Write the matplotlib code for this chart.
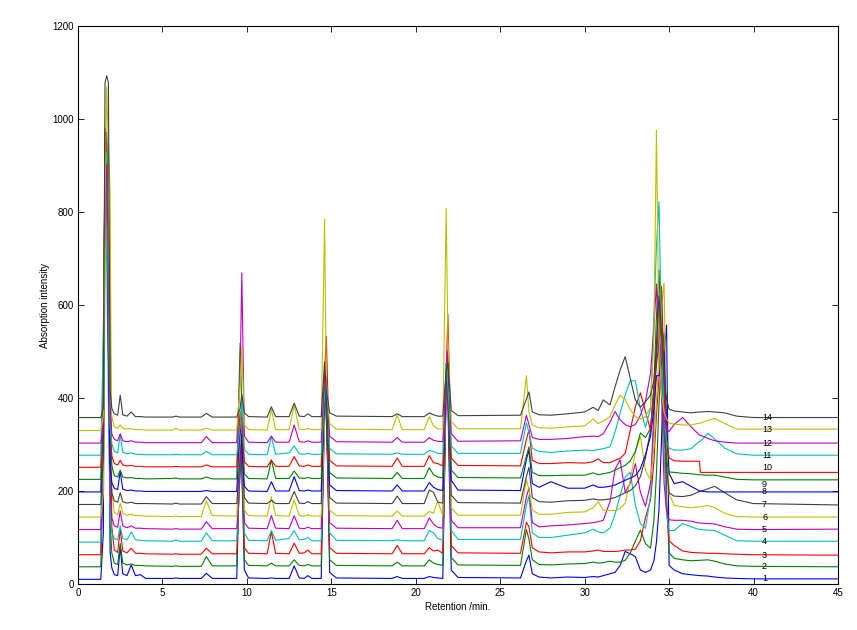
import matplotlib
matplotlib.use("Agg")
import matplotlib.pyplot as plt

# ---------------- data ----------------
t_early = [0.0, 1.35, 1.5, 1.6, 1.7, 1.8, 1.9, 2.0, 2.15, 2.35, 2.5, 2.65, 2.9, 3.15, 3.4, 3.7,
           4.0, 5.6, 5.8, 6.0, 7.3, 7.6, 7.95, 9.4, 9.6, 9.7, 9.85, 10.1, 11.2, 11.45, 11.7,
           12.5, 12.8, 13.1, 13.4, 13.6, 13.85, 14.4, 14.6, 14.7, 14.9, 15.3, 18.6, 18.9, 19.2,
           20.5, 20.8, 21.05, 21.3, 21.6, 21.8, 21.9, 22.1, 22.5, 26.2, 26.55, 26.7, 26.9, 27.3,
           28.0, 29.0]
t_late = [30.0, 30.5, 30.8, 31.1, 31.5, 31.8, 32.1, 32.4, 32.7, 33.0, 33.3, 33.6, 33.9, 34.1,
          34.25, 34.4, 34.55, 34.7, 34.85, 35.0, 35.3, 35.8, 36.3, 36.8, 36.85, 37.3, 37.7,
          38.3, 39.0, 40.0, 45.0]

# baseline level of each trace (absorption units)
baselines = [10, 37, 63, 90, 117, 144, 171, 198, 225, 251, 277, 303, 330, 358]
trace_names = [str(i) for i in range(1, 15)]

# intensity above baseline, sampled at t_early + t_late
trace_01 = [0, 0, 100, 900, 950, 600, 60, 25, 10, 8, 70, 12, 8, 31, 8, 10, 2, 2, 3, 2, 2, 13, 2, 2,
            300, 250, 20, 3, 2, 3, 2, 2, 29, 3, 2, 8, 2, 2, 350, 420, 15, 3, 2, 6, 2, 2, 6, 4, 3, 2,
            420, 380, 20, 4, 3, 40, 52, 12, 5, 3, 5,
            4, 6, 5, 8, 12, 15, 30, 60, 55, 49, 20, 15, 20, 40, 80, 150, 300, 480, 547, 30, 20,
            12, 10, 8, 8, 7, 5, 3, 2, 1, 1]
trace_02 = [0, 0, 200, 800, 850, 500, 100, 30, 8, 5, 50, 8, 4, 6, 3, 3, 2, 1, 2, 1, 1, 22, 2, 2,
            250, 200, 15, 3, 2, 8, 2, 2, 15, 3, 2, 5, 2, 2, 380, 350, 15, 3, 2, 10, 2, 2, 15, 8, 5, 3,
            400, 380, 20, 4, 3, 80, 60, 15, 5, 4, 6,
            7, 10, 8, 9, 12, 10, 10, 14, 30, 55, 79, 50, 40, 100, 200, 350, 450, 503, 150, 30, 18,
            15, 13, 14, 14, 15, 12, 6, 2, 1, 0]
trace_03 = [0, 0, 400, 880, 800, 650, 560, 60, 10, 5, 55, 8, 4, 14, 3, 3, 2, 1, 2, 1, 1, 14, 2, 2,
            200, 250, 15, 3, 2, 50, 3, 2, 25, 3, 4, 10, 2, 2, 350, 300, 15, 3, 2, 20, 2, 2, 15, 8, 10, 3,
            350, 400, 20, 4, 3, 70, 60, 15, 6, 4, 6,
            6, 8, 10, 7, 7, 7, 8, 10, 10, 12, 30, 80, 118, 200, 300, 380, 457, 300, 100, 30, 20,
            8, 5, 4, 4, 3, 3, 2, 1, 0, -1]
trace_04 = [0, 0, 450, 700, 600, 300, 50, 20, 8, 5, 35, 8, 5, 22, 5, 4, 3, 2, 5, 2, 2, 20, 3, 3,
            150, 250, 20, 4, 3, 25, 4, 8, 25, 5, 6, 10, 3, 3, 300, 330, 20, 4, 3, 5, 3, 3, 25, 20, 8, 4,
            350, 380, 25, 6, 6, 80, 100, 20, 10, 10, 15,
            20, 28, 22, 20, 30, 60, 100, 140, 150, 80, 40, 30, 100, 250, 400, 450, 510, 200, 60, 25, 25,
            40, 33, 27, 27, 26, 25, 15, 3, 2, 2]
trace_05 = [0, 0, 100, 700, 750, 400, 80, 25, 8, 5, 40, 8, 4, 8, 3, 3, 2, 1, 2, 1, 1, 17, 2, 2,
            120, 200, 15, 3, 2, 30, 3, 2, 30, 3, 2, 5, 2, 2, 300, 250, 15, 3, 2, 20, 2, 2, 25, 12, 5, 3,
            330, 300, 20, 4, 4, 70, 90, 15, 6, 8, 10,
            13, 15, 17, 20, 60, 130, 150, 80, 100, 142, 80, 50, 100, 250, 400, 493, 300, 100, 40, 21, 20,
            20, 18, 14, 14, 13, 12, 6, 1, 0, 1]
trace_06 = [0, 0, 50, 500, 700, 804, 700, 60, 10, 5, 30, 8, 4, 6, 3, 3, 2, 1, 2, 1, 1, 35, 3, 2,
            150, 200, 15, 3, 2, 44, 3, 2, 37, 3, 2, 5, 2, 2, 200, 290, 15, 3, 2, 13, 2, 2, 12, 8, 34, 3,
            300, 330, 20, 4, 4, 80, 60, 15, 6, 6, 10,
            11, 20, 33, 15, 14, 14, 18, 30, 80, 140, 173, 100, 80, 150, 250, 350, 450, 503, 200, 50, 25,
            22, 20, 22, 22, 25, 20, 8, 1, 0, 0]
trace_07 = [0, 0, 100, 800, 800, 500, 100, 25, 8, 5, 25, 6, 3, 5, 2, 2, 2, 1, 3, 1, 1, 17, 2, 2,
            100, 150, 15, 3, 2, 9, 2, 2, 28, 3, 2, 6, 2, 2, 250, 200, 15, 3, 2, 18, 2, 2, 31, 26, 5, 3,
            280, 250, 20, 4, 3, 60, 80, 15, 6, 5, 8,
            9, 12, 10, 10, 12, 15, 20, 25, 30, 40, 60, 100, 160, 250, 300, 350, 389, 250, 80, 25, 18,
            17, 20, 28, 28, 34, 39, 25, 10, 2, -1]
trace_08 = [0, 0, 200, 750, 700, 300, 60, 20, 8, 5, 45, 6, 3, 4, 2, 2, 1, 1, 1, 1, 1, 3, 1, 1,
            150, 100, 12, 2, 1, 22, 2, 2, 33, 3, 2, 4, 2, 2, 200, 220, 15, 3, 2, 15, 2, 2, 20, 10, 5, 3,
            250, 300, 25, 4, 3, 70, 90, 18, 10, 22, 8,
            8, 15, 10, 10, 12, 15, 20, 25, 30, 35, 50, 80, 120, 180, 250, 250, 280, 302, 150, 40, 18,
            22, 12, 2, 2, 0, 0, 0, 0, 0, 0]
trace_09 = [0, 0, 150, 700, 700, 400, 150, 30, 8, 5, 20, 5, 3, 4, 2, 2, 1, 2, 3, 1, 1, 5, 1, 1,
            293, 150, 12, 2, 1, 42, 2, 2, 18, 3, 2, 4, 2, 2, 200, 150, 15, 3, 2, 15, 2, 2, 25, 10, 5, 3,
            250, 200, 20, 4, 3, 50, 70, 15, 8, 8, 9,
            9, 14, 10, 12, 15, 20, 25, 30, 40, 60, 100, 90, 110, 200, 350, 450, 300, 100, 40, 16, 15,
            13, 12, 10, 10, 9, 9, 5, 0, -1, -1]
trace_10 = [0, 0, 150, 729, 650, 500, 100, 25, 8, 5, 15, 5, 3, 4, 2, 2, 1, 1, 2, 1, 1, 5, 1, 1,
            120, 100, 12, 2, 1, 15, 2, 2, 23, 3, 2, 5, 2, 2, 200, 282, 15, 3, 2, 20, 2, 2, 25, 10, 8, 3,
            200, 329, 20, 4, 3, 60, 80, 15, 8, 8, 10,
            9, 12, 18, 10, 10, 15, 19, 30, 80, 130, 160, 120, 80, 150, 250, 300, 389, 200, 60, 20, 14,
            13, 13, 13, -11, -11, -11, -11, -11, -11, -11]
trace_11 = [0, 0, 263, 600, 650, 300, 60, 25, 8, 5, 45, 6, 3, 5, 2, 2, 1, 1, 2, 1, 1, 8, 1, 1,
            60, 130, 12, 2, 1, 40, 2, 5, 20, 3, 2, 4, 2, 2, 130, 170, 15, 3, 2, 5, 2, 2, 10, 8, 4, 3,
            200, 150, 20, 4, 4, 70, 50, 15, 8, 6, 9,
            11, 10, 12, 14, 18, 50, 90, 130, 160, 160, 100, 60, 100, 300, 450, 545, 250, 80, 30, 15, 11,
            11, 14, 30, 30, 47, 35, 15, 3, 0, 0]
trace_12 = [0, 0, 40, 550, 600, 400, 80, 20, 8, 5, 20, 5, 3, 5, 2, 2, 1, 1, 1, 1, 1, 14, 1, 1,
            150, 366, 15, 2, 1, 15, 2, 2, 39, 3, 2, 5, 2, 2, 150, 120, 15, 3, 2, 12, 2, 2, 12, 6, 4, 3,
            150, 200, 20, 4, 5, 60, 40, 12, 8, 8, 10,
            14, 15, 14, 20, 45, 68, 50, 40, 35, 40, 60, 90, 150, 250, 342, 200, 100, 50, 30, 25, 40,
            55, 35, 17, 17, 10, 5, 2, 0, 0, 0]
trace_13 = [0, 0, 30, 500, 739, 600, 100, 30, 8, 5, 12, 5, 3, 4, 2, 2, 1, 1, 5, 1, 1, 5, 1, 1,
            100, 180, 12, 2, 1, 45, 2, 2, 55, 3, 2, 4, 2, 2, 455, 100, 15, 3, 2, 33, 2, 2, 30, 10, 4, 3,
            478, 200, 20, 4, 4, 118, 40, 12, 6, 5, 8,
            10, 25, 15, 20, 30, 55, 76, 66, 45, 30, 25, 30, 50, 200, 646, 200, 80, 40, 25, 16, 14,
            12, 12, 16, 16, 22, 26, 15, 3, 3, 3]
trace_14 = [0, 0, 20, 720, 735, 720, 60, 20, 8, 5, 48, 6, 3, 12, 2, 2, 1, 1, 3, 1, 1, 9, 1, 1,
            20, 50, 10, 2, 1, 23, 2, 2, 31, 3, 2, 8, 2, 2, 120, 60, 10, 3, 2, 8, 2, 2, 10, 6, 3, 3,
            100, 120, 15, 4, 5, 40, 55, 12, 6, 5, 8,
            12, 22, 15, 38, 27, 66, 102, 131, 84, 38, 22, 34, 48, 80, 150, 262, 180, 80, 40, 18, 14,
            12, 10, 12, 12, 13, 12, 10, 3, 0, 0]

traces = [trace_01, trace_02, trace_03, trace_04, trace_05, trace_06, trace_07,
          trace_08, trace_09, trace_10, trace_11, trace_12, trace_13, trace_14]

# ---------------- style ----------------
matlab_colors = [(0, 0, 1), (0, 0.5, 0), (1, 0, 0), (0, 0.75, 0.75),
                 (0.75, 0, 0.75), (0.75, 0.75, 0), (0.25, 0.25, 0.25)]

plt.rcParams['font.family'] = ['Liberation Sans', 'DejaVu Sans']
plt.rcParams['font.size'] = 7

fig = plt.figure(figsize=(8.57, 6.30), dpi=100)
ax = fig.add_axes([78 / 857, 1 - 584 / 630, (838 - 78) / 857, (584 - 26) / 630])

times = t_early + t_late
for i, (vals, base) in enumerate(zip(traces, baselines)):
    y = [base + v for v in vals]
    col = matlab_colors[i % 7]
    ax.plot(times, y, color=col, lw=0.8)
    # labels 10 and 9 sit very close together; nudge them apart slightly
    va = 'bottom' if trace_names[i] == '10' else ('top' if trace_names[i] == '9' else 'center')
    ax.text(40.5, y[-1], trace_names[i], fontsize=6.5, va=va, ha='left')

ax.set_xlim(0, 45)
ax.set_ylim(0, 1200)
ax.set_xticks(range(0, 46, 5))
ax.set_yticks(range(0, 1201, 200))
ax.tick_params(direction='in', top=True, right=True, length=4, width=0.6, pad=3, labelsize=7)
for s in ax.spines.values():
    s.set_linewidth(0.8)
ax.set_xlabel('Retention /min.', fontsize=7, labelpad=3)
ax.set_ylabel('Absorption intensity', fontsize=7, labelpad=2)

fig.savefig('out.png', dpi=100)
